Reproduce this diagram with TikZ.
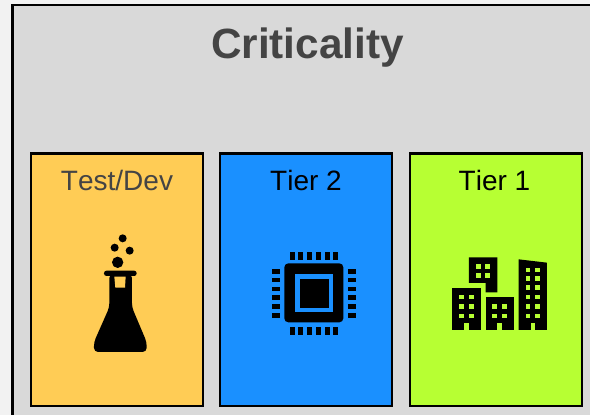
\documentclass[tikz,border=0pt]{standalone}
\usepackage{fontspec}
\setmainfont{Liberation Sans}
\definecolor{pagebg}{HTML}{F2F2F2}
\definecolor{panelbg}{HTML}{D9D9D9}
\definecolor{inkgrey}{HTML}{444444}
\definecolor{testc}{HTML}{FFCC55}
\definecolor{tiertwo}{HTML}{1A90FF}
\definecolor{tierone}{HTML}{B7FF33}
\tikzset{
  tierbox/.style={draw=black,line width=2.3pt,anchor=north west,minimum width=172pt,minimum height=252.3pt,inner sep=0pt,outer sep=0pt},
  tierlabel/.style={anchor=base,font=\fontsize{28}{28}\selectfont\addfontfeature{Kerning=Off},inner sep=0pt},
}
\begin{document}
\begin{tikzpicture}[x=1pt,y=-1pt]
\useasboundingbox (0,0) rectangle (590,415);
\fill[pagebg] (0,0) rectangle (590,415);
\fill[panelbg] (12.5,5) rectangle (590,415);
\draw[black,line width=2.4pt] (590,5) -- (12.5,5) -- (12.5,415);
\node[anchor=base,font=\fontsize{42.3}{42.3}\selectfont\bfseries,text=inkgrey,inner sep=0pt] (title) at (307.5,58) {Criticality};
\node[tierbox,fill=testc] (boxa) at (30.7,153.4) {};
\node[tierbox,fill=tiertwo] (boxb) at (220.3,153.4) {};
\node[tierbox,fill=tierone] (boxc) at (410,153.4) {};
\node[tierlabel,text=inkgrey] (laba) at (117,190) {Test/Dev};
\node[tierlabel,text=black] (labb) at (306,190) {Tier 2};
\node[tierlabel,text=black] (labc) at (494.5,190) {Tier 1};
% flask
\begin{scope}[shift={(70,220)},x=0.3333pt,y=-0.3333pt]
\foreach \cx/\cy/\r in {158/55/12,134/83/12,179/92/12,143/127/17}
  \fill[black] (\cx,\cy) circle (\r*0.3333pt);
\fill[black,rounded corners=2.5pt] (102,152) rectangle (200,168);
\fill[black,rounded corners=4pt] (118,162) -- (186,162) -- (186,262) -- (230,366) -- (230,396) -- (72,396) -- (72,366) -- (118,262) -- cycle;
\fill[testc] (133,170) -- (167,170) -- (165,203) -- (136,203) -- cycle;
\end{scope}
% chip
\begin{scope}[shift={(260,240)},x=0.3333pt,y=-0.3333pt]
\foreach \x in {90,114,141,168,195,219}{
  \fill[black] (\x,37) rectangle (\x+14,60);
  \fill[black] (\x,262) rectangle (\x+14,286);
}
\foreach \y in {87,113,140,166,192,219}{
  \fill[black] (36,\y) rectangle (60,\y+14);
  \fill[black] (264,\y) rectangle (288,\y+14);
}
\fill[black,rounded corners=4pt] (73,70) rectangle (250,247);
\fill[tiertwo] (106,103) rectangle (218,215);
\fill[black] (119,116) rectangle (206,203);
\end{scope}
% buildings
\begin{scope}[shift={(440,245)},x=0.3333pt,y=-0.3333pt]
\fill[black] (37,128) rectangle (122,255);
\fill[black] (87,37) -- (172,37) -- (172,142) -- (137,142) -- (137,114) -- (87,114) -- cycle;
\fill[black] (137,156) rectangle (222,255);
\fill[black] (236,43) -- (321,53) -- (321,255) -- (236,255) -- cycle;
\foreach \x/\w in {72/15,172/15,272/14}
  \fill[tierone] (\x,235) rectangle (\x+\w,255);
\foreach \y in {149,178,206}{
  \fill[tierone] (58,\y) rectangle (72,\y+14);
  \fill[tierone] (87,\y) rectangle (101,\y+14);
}
\foreach \y in {57,85}{
  \fill[tierone] (108,\y) rectangle (122,\y+14);
  \fill[tierone] (136,\y) rectangle (150,\y+14);
}
\foreach \y in {178,206}{
  \fill[tierone] (157,\y) rectangle (171,\y+14);
  \fill[tierone] (186,\y) rectangle (200,\y+14);
}
\foreach \y in {68,93,121,149,178,206}{
  \fill[tierone] (257,\y) rectangle (271,\y+14);
  \fill[tierone] (285,\y) rectangle (299,\y+14);
}
\end{scope}
\end{tikzpicture}
\end{document}
